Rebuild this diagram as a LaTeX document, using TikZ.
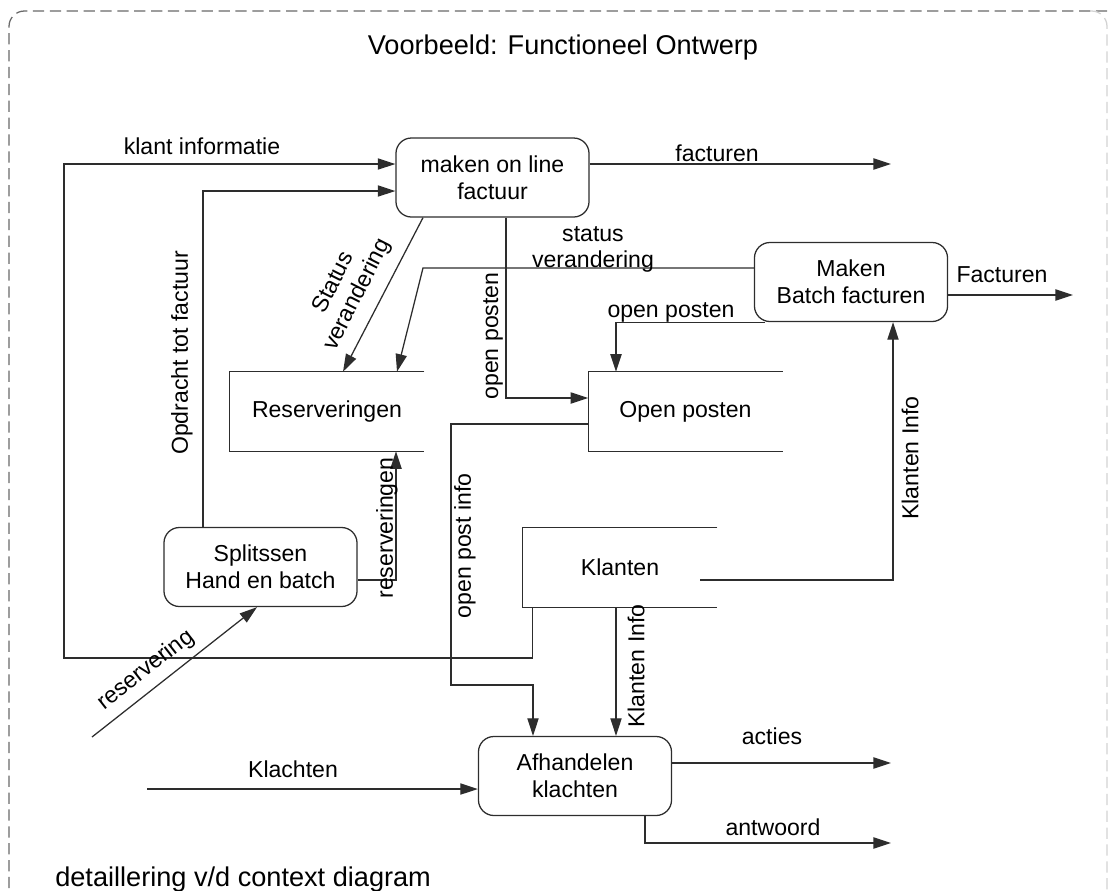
\documentclass[tikz,border=0pt]{standalone}
\usepackage{fontspec}
\setmainfont{Liberation Sans}
\usetikzlibrary{arrows.meta,positioning,calc}
\definecolor{linegray}{RGB}{45,45,45}
\definecolor{framegray}{RGB}{105,105,105}
\newcommand{\bodyfont}{\fontsize{16.4}{19}\selectfont}
\newcommand{\titlefont}{\fontsize{19.3}{23}\selectfont}
\newcommand{\storeframe}[1]{\draw[wire] (#1.north east) -- (#1.north west) -- (#1.south west) -- (#1.south east);}

\begin{document}
\begin{tikzpicture}[
    x=0.025cm, y=-0.025cm,
    wire/.style={draw=linegray, line width=0.9pt},
    flow/.style={wire, -{Triangle[length=12.5pt,width=8pt]}},
    process/.style={wire, rounded corners=11pt, minimum width=4.825cm, minimum height=1.975cm, align=center, inner sep=0pt, font=\bodyfont},
    store/.style={minimum width=4.85cm, minimum height=1.975cm, inner sep=0pt, font=\bodyfont},
    lbl/.style={font=\bodyfont, inner sep=0pt, align=center},
    dashframe/.style={draw=framegray, line width=0.9pt, dash pattern=on 8pt off 4pt, rounded corners=11pt}
]
    \useasboundingbox (0,0) rectangle (1111,890);

    % Frame
    \draw[dashframe] (9,905) -- (9,11) -- (1107,11);
    \draw[dashframe, draw=framegray!30] (1090,11) -- (1107,11) -- (1107,905);
    \node[font=\titlefont] (title) at (563,47) {Voorbeeld: Functioneel Ontwerp};
    \node[font=\titlefont, anchor=base west, inner sep=0pt] (caption) at (55,886) {detaillering v/d context diagram};

    % Processes
    \node[process] (maken) at (492.5,177.5) {maken on line\\factuur};
    \node[process] (batch) at (851,282) {Maken\\Batch facturen};
    \node[process] (splits) at (260.5,567) {Splitssen\\Hand en batch};
    \node[process] (afh) at (575,776) {Afhandelen\\klachten};

    % Stores
    \node[store] (reserv) at (327,411.5) {Reserveringen};
    \node[store] (openp) at (685.5,411.5) {Open posten};
    \node[store] (klanten) at (620,567.5) {Klanten};
    \storeframe{reserv}
    \storeframe{openp}
    \storeframe{klanten}

    % Free ends
    \coordinate (facturenout) at (891,164);
    \coordinate (Facturenout) at (1073,295);
    \coordinate (actiesout) at (891,763);
    \coordinate (antwoordout) at (891,843);
    \coordinate (klachtenin) at (147,789);
    \coordinate (reserveringin) at (92,737);

    % Flows
    \draw[flow] ($(klanten.south west)+(10,0)$) |- (64,658) |- (maken.west |- 0,164);
    \draw[flow] (splits.north -| 203,0) |- (maken.west |- 0,191);
    \draw[flow] (maken.east |- facturenout) -- (facturenout);
    \draw[flow] (maken.south -| 423,0) -- (reserv.north -| 343,0);
    \draw[flow] (maken.south -| 506,0) |- (openp.west |- 0,398);
    \draw[flow] (batch.west |- 0,268) -- (423,268) -- (reserv.north -| 397,0);
    \draw[flow] ($(batch.south west)+(11,0)$) -| (openp.north -| 616,0);
    \draw[flow] (batch.east |- Facturenout) -- (Facturenout);
    \draw[flow] ($(klanten.east)+(-17,12.5)$) -| (batch.south -| 893,0);
    \draw[flow] (splits.east |- 0,580) -| (reserv.south -| 396,0);
    \draw[flow] (openp.west |- 0,424) -| (451,685) -| (afh.north -| 533,0);
    \draw[flow] (klanten.south -| 616,0) -- (afh.north -| 616,0);
    \draw[flow] (afh.east |- actiesout) -- (actiesout);
    \draw[flow] (afh.south -| 645,0) |- (antwoordout);
    \draw[flow] (klachtenin) -- (afh.west |- klachtenin);
    \draw[flow] (reserveringin) -- (splits.south -| 257,0);

    % Labels
    \node[lbl] (lklantinfo) at (202,146) {klant informatie};
    \node[lbl, rotate=90] (lopdracht) at (182,353) {Opdracht tot factuur};
    \node[lbl] (lfacturen) at (717,153) {facturen};
    \node[lbl, rotate=63] (lstatus) at (346,289) {Status\\verandering};
    \node[lbl, rotate=90] (lopenposten) at (493,336) {open posten};
    \node[lbl] (lstatus2) at (593,249.5) {status\\verandering};
    \node[lbl] (lopenposten2) at (671,312) {open posten};
    \node[lbl] (lFacturen) at (1002,275) {Facturen};
    \node[lbl, rotate=90] (lklanteninfo) at (910,458) {Klanten Info};
    \node[lbl, rotate=90] (lreserveringen) at (387,528) {reserveringen};
    \node[lbl, rotate=90] (lopenpost) at (465,546) {open post info};
    \node[lbl, rotate=90] (lklanteninfo2) at (636,666) {Klanten Info};
    \node[lbl] (lacties) at (772,736) {acties};
    \node[lbl] (lantwoord) at (773,827) {antwoord};
    \node[lbl] (lklachten) at (293,769) {Klachten};
    \node[lbl, rotate=38] (lreservering) at (146,670) {reservering};
\end{tikzpicture}
\end{document}
